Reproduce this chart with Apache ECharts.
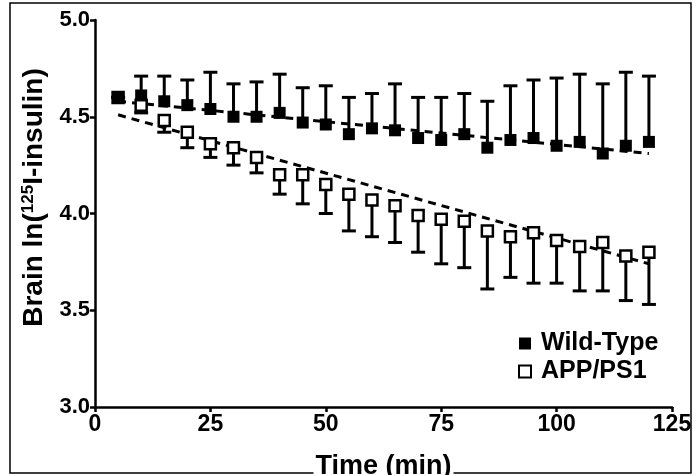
<!DOCTYPE html>
<html><head><meta charset="utf-8">
<script src="https://cdn.jsdelivr.net/npm/echarts@6/dist/echarts.min.js"></script>
<style>html,body{margin:0;padding:0;background:#fff}#c{width:696px;height:475px}</style>
</head><body><div id="c"></div>
<script>
var time = [5,10,15,20,25,30,35,40,45,50,55,60,65,70,75,80,85,90,95,100,105,110,115,120];
var wtMean = [4.60,4.61,4.58,4.56,4.54,4.50,4.50,4.52,4.47,4.46,4.41,4.44,4.43,4.39,4.38,4.41,4.34,4.38,4.39,4.35,4.37,4.31,4.35,4.37];
var wtUpper = [4.60,4.71,4.71,4.69,4.73,4.67,4.68,4.72,4.65,4.66,4.60,4.62,4.67,4.60,4.60,4.62,4.58,4.66,4.69,4.70,4.72,4.67,4.73,4.71];
var appMean = [4.60,4.56,4.48,4.42,4.36,4.34,4.29,4.20,4.20,4.15,4.10,4.07,4.04,3.99,3.97,3.96,3.91,3.88,3.90,3.86,3.83,3.85,3.78,3.80];
var appLower = [4.60,4.52,4.42,4.34,4.29,4.25,4.21,4.10,4.05,4.00,3.91,3.88,3.85,3.80,3.74,3.72,3.61,3.67,3.64,3.64,3.60,3.60,3.55,3.53];
var wtFitX = [5,120], wtFitY = [4.58,4.31];
var appFitX = [5,120], appFitY = [4.51,3.74];
var yTicks = ['3.0','3.5','4.0','4.5','5.0'];
var xTicks = ['0','25','50','75','100','125'];

var FONT = '"Liberation Sans", Arial, sans-serif';
function pairs(xs, ys){ return xs.map(function(x,i){ return [x, ys[i]]; }); }
function errData(m, e){ return time.map(function(t,i){ return [t, m[i], e[i]]; }); }
function errRender(params, api){
  var x = api.value(0), m = api.value(1), e = api.value(2);
  var p0 = api.coord([x, m]), p1 = api.coord([x, e]);
  var st = {stroke:'#000', lineWidth:3};
  return {type:'group', children:[
    {type:'line', shape:{x1:p0[0],y1:p0[1],x2:p1[0],y2:p1[1]}, style:st},
    {type:'line', shape:{x1:p1[0]-7,y1:p1[1],x2:p1[0]+7,y2:p1[1]}, style:st}
  ]};
}
var chart = echarts.init(document.getElementById('c'), null, {renderer:'canvas'});
chart.setOption({
  animation:false,
  backgroundColor:'#fff',
  grid:{left:95, right:24, top:20, bottom:68, containLabel:false, outerBoundsMode:'none'},
  xAxis:{type:'value', min:0, max:125, interval:25, z:10,
    axisLine:{lineStyle:{color:'#000', width:2.5}},
    axisTick:{show:true, length:5, lineStyle:{color:'#000', width:2.5}},
    splitLine:{show:false},
    axisLabel:{color:'#000', fontFamily:FONT, fontWeight:'bold', fontSize:23, margin:6,
      formatter:function(v){ return xTicks[Math.round(v/25)]; }},
    name:'Time (min)', nameLocation:'middle', nameGap:46,
    nameTextStyle:{color:'#000', fontFamily:FONT, fontWeight:'bold', fontSize:27, backgroundColor:'#fff', padding:[0,2,0,2]}
  },
  yAxis:{type:'value', min:3, max:5, interval:0.5,
    axisLine:{show:true, lineStyle:{color:'#000', width:2.5}},
    axisTick:{show:true, length:5, lineStyle:{color:'#000', width:2.5}},
    splitLine:{show:false},
    axisLabel:{color:'#000', fontFamily:FONT, fontWeight:'bold', fontSize:22, margin:5,
      formatter:function(v){ return yTicks[Math.round((v-3)/0.5)]; }},
    name:'{b|Brain ln(}{s|125}{b|I-insulin)}', nameLocation:'middle', nameGap:42, nameRotate:90,
    nameTextStyle:{color:'#000', padding:[0,0,0,32], rich:{
      b:{fontFamily:FONT, fontWeight:'bold', fontSize:28, color:'#000'},
      s:{fontFamily:FONT, fontWeight:'bold', fontSize:17, color:'#000', padding:[0,0,13,0]}
    }}
  },
  legend:{orient:'vertical', left:513, top:326, itemWidth:12, itemHeight:12, itemGap:3,
    data:['Wild-Type','APP/PS1'],
    textStyle:{color:'#000', fontFamily:FONT, fontWeight:'bold', fontSize:25, padding:[0,0,0,5]}
  },
  graphic:[{type:'rect', z:-1, shape:{x:10, y:3, width:681, height:470}, style:{fill:'none', stroke:'#000', lineWidth:1.5}}],
  series:[
    {type:'custom', name:'wtErr', renderItem:errRender, data:errData(wtMean, wtUpper), z:2, silent:true},
    {type:'custom', name:'appErr', renderItem:errRender, data:errData(appMean, appLower), z:2, silent:true},
    {type:'line', name:'wtFit', data:pairs(wtFitX, wtFitY), symbol:'none', z:3,
      lineStyle:{color:'#000', width:3, type:[8,6]}},
    {type:'line', name:'appFit', data:pairs(appFitX, appFitY), symbol:'none', z:3,
      lineStyle:{color:'#000', width:3, type:[8,6]}},
    {type:'scatter', name:'APP/PS1', data:pairs(time, appMean), symbol:'rect', symbolSize:11, z:4,
      itemStyle:{color:'#fff', borderColor:'#000', borderWidth:2.5, opacity:1}},
    {type:'scatter', name:'Wild-Type', data:pairs(time, wtMean), symbol:'rect', symbolSize:12, z:5,
      itemStyle:{color:'#000', opacity:1}}
  ]
});
</script></body></html>
